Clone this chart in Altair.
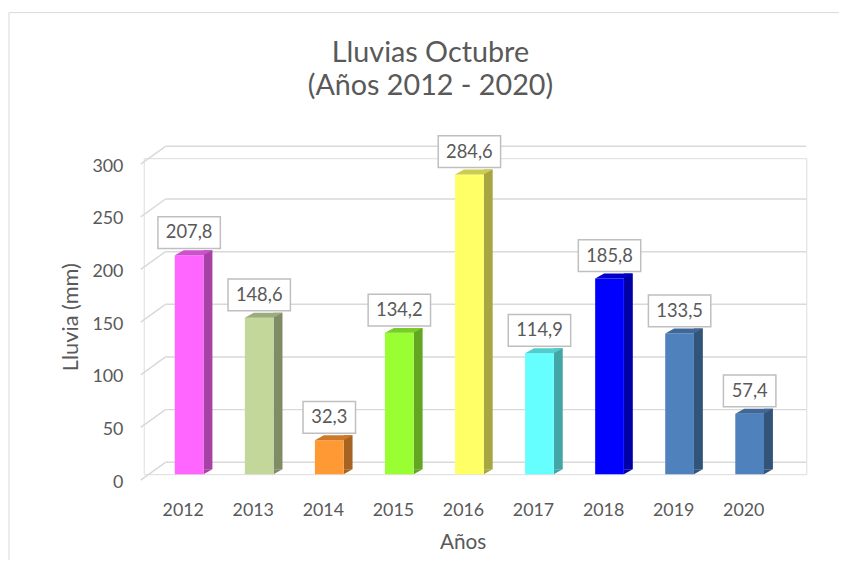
import altair as alt
import pandas as pd

years = ["2012", "2013", "2014", "2015", "2016", "2017", "2018", "2019", "2020"]
values = [207.8, 148.6, 32.3, 134.2, 284.6, 114.9, 185.8, 133.5, 57.4]
front_colors = ["#FF66FF", "#C4D79B", "#FF9933", "#99FF33", "#FFFF66", "#66FFFF", "#0000FF", "#4F81BD", "#4F81BD"]
side_colors = ["#A642A6", "#7F8C65", "#A66321", "#63A621", "#A6A642", "#42A6A6", "#0000A6", "#335479", "#335479"]
top_colors = ["#CC52CC", "#9DAC7C", "#CC7A29", "#7ACC29", "#CCCC52", "#52CCCC", "#0000CC", "#3F6797", "#3F6797"]
y_ticks = [0, 50, 100, 150, 200, 250, 300]

TXT = "#595959"
GRID = "#D9D9D9"
FONT = "Lato"

df = pd.DataFrame({
    "idx": list(range(len(years))),
    "year": years,
    "v": values,
    "front": front_colors,
    "side": side_colors,
    "top": top_colors,
    "label": [f"{v:.1f}".replace(".", ",") for v in values],
})
grid_df = pd.DataFrame({"v": y_ticks})

W, H = 669, 319

xaxis = alt.Axis(values=list(range(len(years))), labelExpr=f"{years}[datum.value]",
                 grid=False, domain=False, ticks=False, labelPadding=28, labelOffset=-6.5,
                 labelFlush=False, labelOverlap=False,
                 labelFont=FONT, labelFontSize=18, labelColor=TXT,
                 title="Años", titleFont=FONT, titleFontSize=21, titleFontWeight="normal",
                 titleColor=TXT, titleX=322, titleY=69, titleBaseline="middle", titleAlign="center")
yaxis = alt.Axis(values=y_ticks, grid=False, domain=False, ticks=False, labelPadding=21,
                 labelOffset=8, labelFont=FONT, labelFontSize=18, labelColor=TXT,
                 title="Lluvia (mm)", titleFont=FONT, titleFontSize=22, titleFontWeight="normal",
                 titleColor=TXT, titleX=-74, titleY=160, titleAngle=270,
                 titleAlign="center", titleBaseline="middle")

x_enc = alt.X("idx:Q", scale=alt.Scale(domain=[-0.578, 8.738], nice=False, zero=False), axis=xaxis)
y_enc = alt.Y("v:Q", scale=alt.Scale(domain=[0, 300], nice=False), axis=yaxis)

base = alt.Chart(df)

border_left = alt.Chart(alt.Data(values=[{}])).mark_rule(color=GRID, strokeWidth=1).encode(
    x=alt.value(-136), x2=alt.value(-136), y=alt.value(-147), y2=alt.value(440))
border_top = alt.Chart(alt.Data(values=[{}])).mark_rule(color=GRID, strokeWidth=1).encode(
    x=alt.value(-136), x2=alt.value(702), y=alt.value(-147), y2=alt.value(-147))

grid_back = alt.Chart(grid_df).mark_rule(color=GRID, strokeWidth=1.5, yOffset=-12).encode(
    x=alt.value(22), x2=alt.value(W), y=y_enc)
grid_diag = alt.Chart(grid_df).mark_rule(color=GRID, strokeWidth=1.5, yOffset=6, y2Offset=-12).encode(
    x=alt.value(-3), x2=alt.value(22), y=y_enc, y2=alt.Y2("v"))

side = base.mark_bar(size=9, xOffset=19, yOffset=-5, y2Offset=-5).encode(
    x=x_enc, y=y_enc, color=alt.Color("side:N", scale=None))
side_bottom = base.mark_point(shape="M 14.5 0 L 14.5 -5 L 23.5 -5 Z", size=4, filled=True,
                              opacity=1, strokeWidth=0).encode(
    x=x_enc, y=alt.datum(0), color=alt.Color("side:N", scale=None))
front = base.mark_bar(size=29).encode(
    x=x_enc, y=y_enc, color=alt.Color("front:N", scale=None))
top = base.mark_point(shape="M -14.5 0 L 14.5 0 L 23.5 -5 L -5.5 -5 Z", size=4, filled=True,
                      opacity=1, strokeWidth=0).encode(
    x=x_enc, y=y_enc, color=alt.Color("top:N", scale=None))

box5 = base.transform_filter("length(datum.label) >= 5").mark_rect(
    fill="white", stroke="#BFBFBF", strokeWidth=1.5,
    xOffset=-31.5, x2Offset=31.5, yOffset=-39, y2Offset=-7).encode(
    x=x_enc, x2=alt.X2("idx"), y=y_enc, y2=alt.Y2("v"))
box4 = base.transform_filter("length(datum.label) < 5").mark_rect(
    fill="white", stroke="#BFBFBF", strokeWidth=1.5,
    xOffset=-26.5, x2Offset=26.5, yOffset=-39, y2Offset=-7).encode(
    x=x_enc, x2=alt.X2("idx"), y=y_enc, y2=alt.Y2("v"))
labels = base.mark_text(dy=-23, font=FONT, fontSize=18.5, color=TXT, baseline="middle").encode(
    x=x_enc, y=y_enc, text="label:N")

chart = alt.layer(
    border_left, border_top, grid_back, grid_diag, side, side_bottom, front, top, box5, box4, labels
).properties(
    width=W, height=H,
    title=alt.TitleParams(text=["Lluvias Octubre", "(Años 2012 - 2020)"], font=FONT, fontSize=29,
                          fontWeight="normal", color=TXT, anchor="middle", lineHeight=34,
                          offset=-90, dx=-45),
    autosize=alt.AutoSizeParams(type="none"),
    padding={"left": 137, "top": 149, "right": 33, "bottom": 84},
).configure_view(stroke=None).configure(background="white")

chart.save("out.html", embed_options={"renderer": "svg", "actions": False})
